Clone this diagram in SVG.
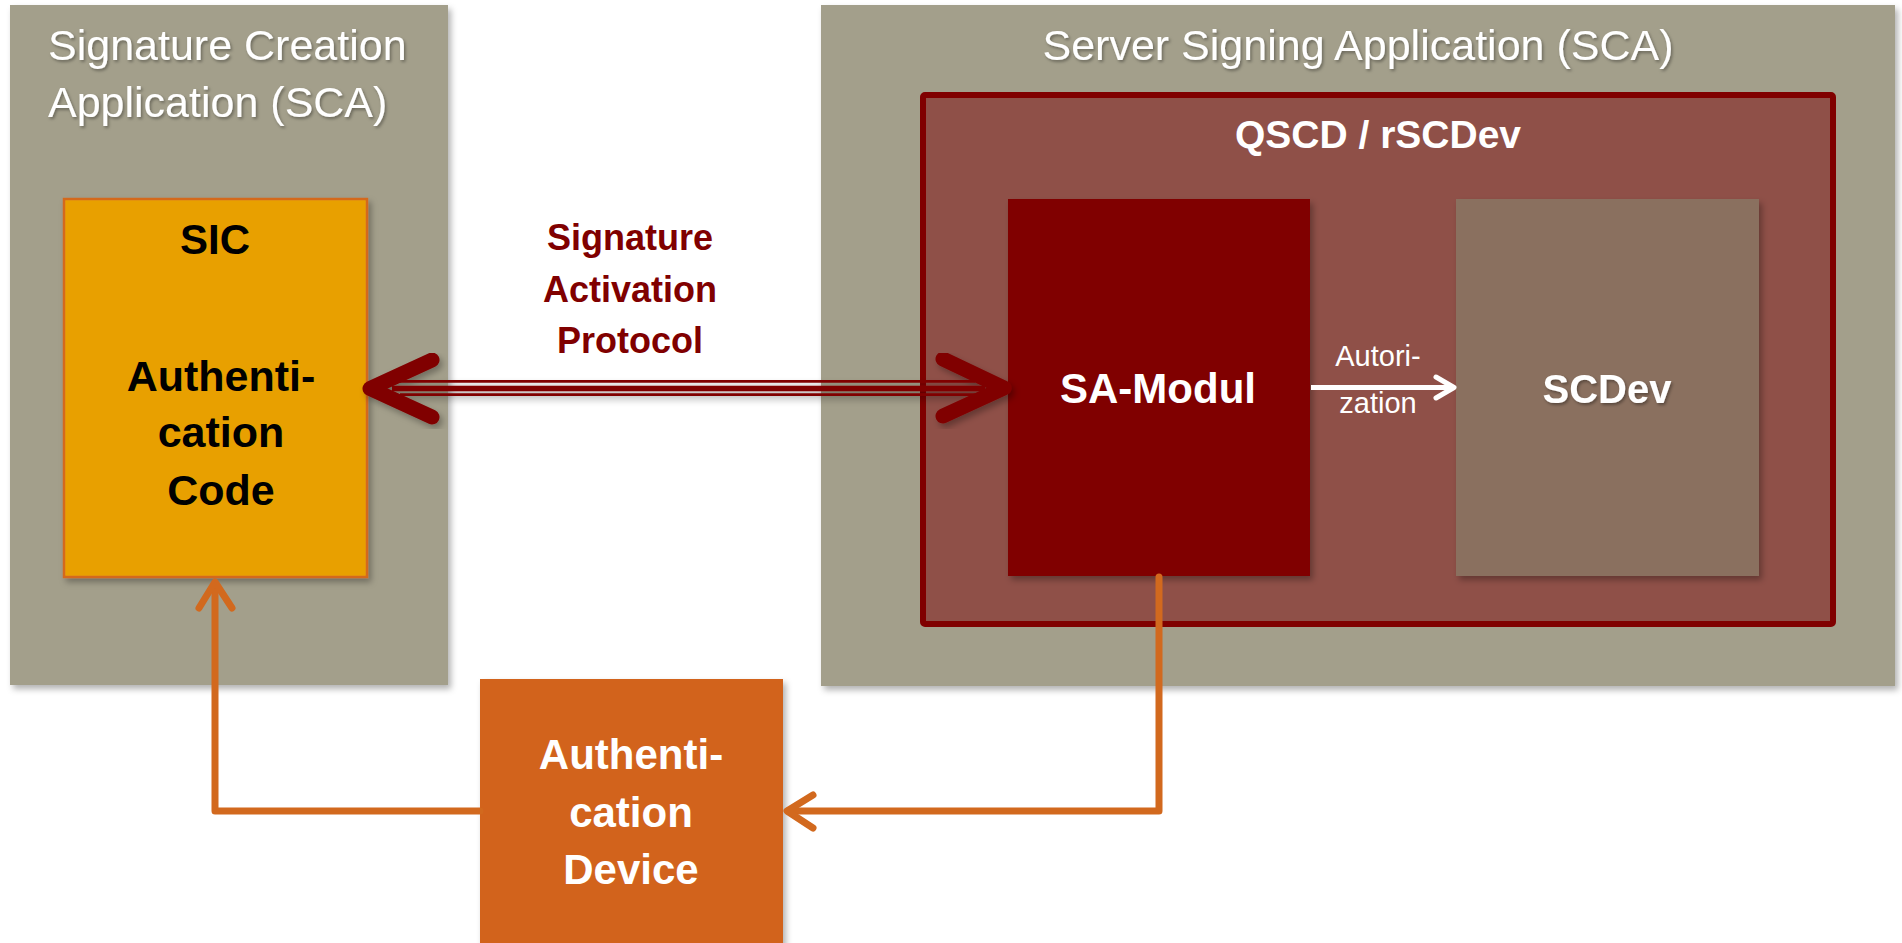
<svg xmlns="http://www.w3.org/2000/svg" width="1902" height="943" viewBox="0 0 1902 943">
<defs>
<filter id="sh" x="-10%" y="-10%" width="130%" height="130%">
<feDropShadow dx="3" dy="4" stdDeviation="3" flood-color="#000" flood-opacity="0.3"/>
</filter>
<filter id="tsh" x="-10%" y="-20%" width="130%" height="150%">
<feDropShadow dx="1.5" dy="2" stdDeviation="1.5" flood-color="#000" flood-opacity="0.35"/>
</filter>
<style>
.grey{fill:#a39f8b}
.title{font-family:"Liberation Sans",Arial,sans-serif;font-size:43px;fill:#ffffff}
.b{font-family:"Liberation Sans",Arial,sans-serif;font-weight:bold;text-anchor:middle}
.r{font-family:"Liberation Sans",Arial,sans-serif;text-anchor:middle}
.dr{fill:none;stroke:#800000;stroke-linecap:round;stroke-linejoin:round}
.or{fill:none;stroke:#d2691e;stroke-width:7;stroke-linecap:round;stroke-linejoin:round}
</style>
</defs>
<rect width="1902" height="943" fill="#ffffff"/>

<g id="sca-left" filter="url(#sh)">
<rect class="grey" x="10" y="5" width="438" height="680"/>
</g>
<g id="sca-left-title">
<text class="title" x="48" y="60" filter="url(#tsh)">Signature Creation</text>
<text class="title" x="48" y="117" filter="url(#tsh)">Application (SCA)</text>
</g>

<g id="ssa-right" filter="url(#sh)">
<rect class="grey" x="821" y="5" width="1074" height="681"/>
</g>
<g id="ssa-right-title">
<text class="title" x="1358" y="60" text-anchor="middle" filter="url(#tsh)">Server Signing Application (SCA)</text>
</g>

<g id="sic">
<rect x="64" y="199" width="303" height="378" fill="#e8a000" stroke="#d4691c" stroke-width="2.5" filter="url(#sh)"/>
<text class="b" x="215" y="254" font-size="42" fill="#000">SIC</text>
<text class="b" x="221" y="391" font-size="43" fill="#000">Authenti-</text>
<text class="b" x="221" y="447" font-size="43" fill="#000">cation</text>
<text class="b" x="221" y="505" font-size="43" fill="#000">Code</text>
</g>

<g id="qscd">
<rect x="923" y="95" width="910" height="529" rx="2" fill="#8f5048" stroke="#800000" stroke-width="6"/>
<text class="b" x="1378" y="148" font-size="39" fill="#ffffff">QSCD / rSCDev</text>
</g>

<g id="sa-modul">
<rect x="1008" y="199" width="302" height="377" fill="#800000" filter="url(#sh)"/>
<text class="b" x="1158" y="403" font-size="42" fill="#ffffff">SA-Modul</text>
</g>

<g id="scdev">
<rect x="1456" y="199" width="303" height="377" fill="#8a705f" filter="url(#sh)"/>
<text class="b" x="1607" y="403" font-size="40" fill="#ffffff" filter="url(#tsh)">SCDev</text>
</g>

<g id="auth-device">
<rect x="480" y="679" width="303" height="270" fill="#d2641a" filter="url(#sh)"/>
<text class="b" x="631" y="769" font-size="42" fill="#ffffff">Authenti-</text>
<text class="b" x="631" y="827" font-size="42" fill="#ffffff">cation</text>
<text class="b" x="631" y="884" font-size="42" fill="#ffffff">Device</text>
</g>

<g id="connectors">
<g id="sap-arrow" filter="url(#sh)">
<line x1="400" y1="381.4" x2="975" y2="381.4" stroke="#800000" stroke-width="2.7"/>
<line x1="392" y1="388.5" x2="985" y2="388.5" stroke="#800000" stroke-width="5.6"/>
<line x1="400" y1="394.7" x2="975" y2="394.7" stroke="#800000" stroke-width="2.7"/>
<path class="dr" d="M432 360 L370 388.5 L432 417" stroke-width="15"/>
<path class="dr" d="M943 359 L1004 388 L943 416" stroke-width="15"/>
</g>
<g id="sap-label">
<text class="b" x="630" y="250" font-size="36" fill="#800000">Signature</text>
<text class="b" x="630" y="302" font-size="36" fill="#800000">Activation</text>
<text class="b" x="630" y="353" font-size="36" fill="#800000">Protocol</text>
</g>
<g id="autorization">
<line x1="1311" y1="387.5" x2="1451" y2="387.5" stroke="#ffffff" stroke-width="5"/>
<path d="M1436 377 L1454 387.5 L1436 398" fill="none" stroke="#ffffff" stroke-width="5" stroke-linecap="round" stroke-linejoin="round"/>
<text class="r" x="1378" y="366" font-size="29" fill="#ffffff">Autori-</text>
<text class="r" x="1378" y="413" font-size="29" fill="#ffffff">zation</text>
</g>
<g id="auth-loop">
<path class="or" d="M480 811 H215 V584"/>
<path class="or" d="M199 608 L215 582 L232 608"/>
<path class="or" d="M1159 577 V811 H788"/>
<path class="or" d="M813 795 L787 811 L813 828"/>
</g>
</g>
</svg>
